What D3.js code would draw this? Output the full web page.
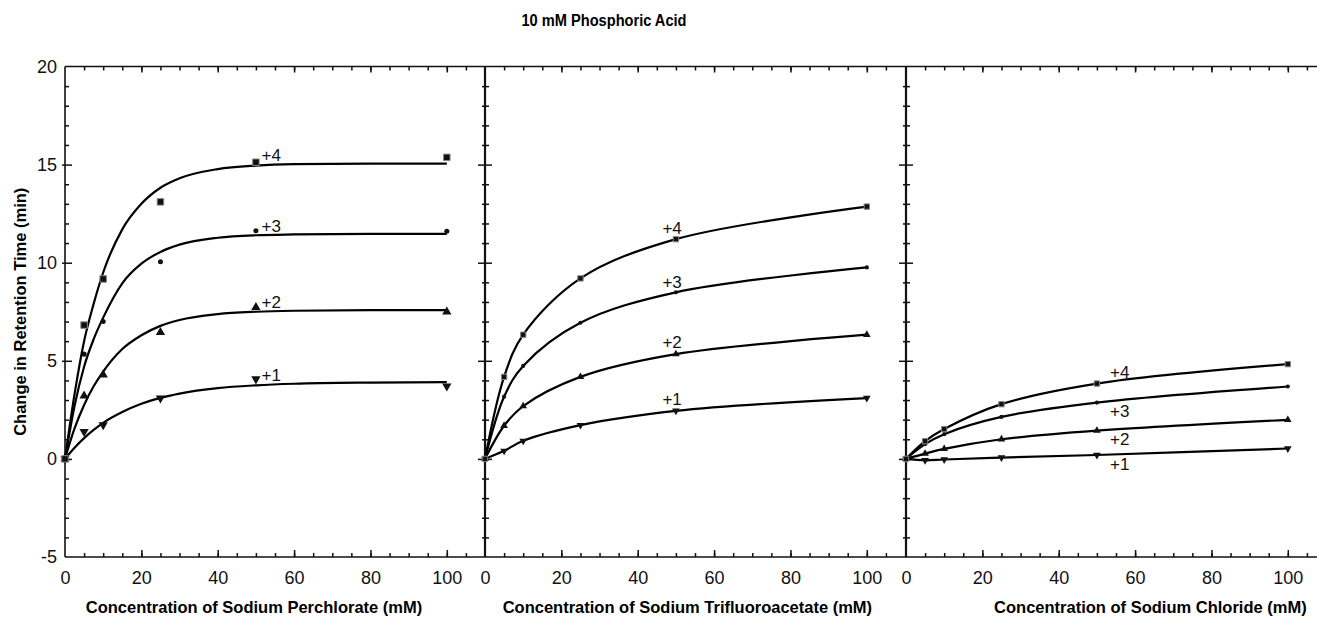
<!DOCTYPE html>
<html>
<head>
<meta charset="utf-8">
<script src="https://cdn.jsdelivr.net/npm/d3@7"></script>
<style>
  body { margin: 0; background: #fff; }
  svg { display: block; font-family: "Liberation Sans", Arial, Helvetica, sans-serif; }
</style>
</head>
<body>
<svg id="chart" width="1317" height="617"></svg>
<script>
// concentrations (mM) where retention was measured
const conc = [0, 5, 10, 25, 50, 100];
const charges = ["+1", "+2", "+3", "+4"];

// sodium perchlorate: measured points
const perchlorate1 = [0, 1.39, 1.73, 3.10, 4.07, 3.71];
const perchlorate2 = [0, 3.21, 4.29, 6.45, 7.72, 7.50];
const perchlorate3 = [0, 5.34, 7.00, 10.05, 11.63, 11.60];
const perchlorate4 = [0, 6.82, 9.17, 13.10, 15.12, 15.37];

// sodium perchlorate: fitted curves
const fitConc = [0, 2.5, 5, 7.5, 10, 15, 20, 25, 30, 40, 50, 60, 80, 100];
const perchlorateFit1 = [0, 0.57, 1.06, 1.48, 1.84, 2.39, 2.81, 3.11, 3.33, 3.61, 3.75, 3.83, 3.89, 3.91];
const perchlorateFit2 = [0, 1.55, 2.75, 3.7, 4.45, 5.6, 6.3, 6.78, 7.08, 7.38, 7.5, 7.55, 7.58, 7.58];
const perchlorateFit3 = [0, 2.7, 4.7, 6.1, 7.2, 8.95, 9.95, 10.55, 10.92, 11.27, 11.4, 11.44, 11.47, 11.47];
const perchlorateFit4 = [0, 3.3, 6.0, 7.9, 9.5, 11.7, 13.0, 13.82, 14.3, 14.77, 14.95, 15.02, 15.05, 15.05];

// sodium trifluoroacetate
const tfa1 = [0, 0.41, 0.92, 1.72, 2.45, 3.10];
const tfa2 = [0, 1.69, 2.69, 4.18, 5.34, 6.33];
const tfa3 = [0, 3.17, 4.74, 6.94, 8.49, 9.76];
const tfa4 = [0, 4.18, 6.33, 9.20, 11.20, 12.86];

// sodium chloride
const chloride1 = [0, -0.07, -0.03, 0.07, 0.20, 0.53];
const chloride2 = [0, 0.27, 0.51, 1.00, 1.44, 1.99];
const chloride3 = [0, 0.75, 1.26, 2.14, 2.87, 3.69];
const chloride4 = [0, 0.90, 1.52, 2.79, 3.84, 4.83];

// where the "+n" labels sit, in data units
const perchlorateLabelX = [54, 54, 54, 54];
const perchlorateLabelY = [3.95, 7.7, 11.56, 15.18];
const tfaLabelX = [49, 49, 49, 49];
const tfaLabelY = [2.73, 5.64, 8.72, 11.45];
const chlorideLabelX = [56, 56, 56, 56];
const chlorideLabelY = [-0.55, 0.72, 2.12, 4.12];

const xTicks = [0, 20, 40, 60, 80, 100];
const yTicks = [-5, 0, 5, 10, 15, 20];

const panels = [
  { title: "Concentration of Sodium Perchlorate (mM)", series: [perchlorate1, perchlorate2, perchlorate3, perchlorate4],
    fits: [perchlorateFit1, perchlorateFit2, perchlorateFit3, perchlorateFit4], lx: perchlorateLabelX, ly: perchlorateLabelY, titleX: 49.5, mark: 1.25 },
  { title: "Concentration of Sodium Trifluoroacetate (mM)", series: [tfa1, tfa2, tfa3, tfa4],
    fits: null, lx: tfaLabelX, ly: tfaLabelY, titleX: 53, mark: 0.85 },
  { title: "Concentration of Sodium Chloride (mM)", series: [chloride1, chloride2, chloride3, chloride4],
    fits: null, lx: chlorideLabelX, ly: chlorideLabelY, titleX: 64, mark: 0.85 }
];

const svg = d3.select("#chart");
const W = 1317;
const margin = { top: 66.5, bottom: 557 };
const panelLeft = [65, 485, 906];
const panelWidth = 420;
const ink = "#111";

const y = d3.scaleLinear().domain([-5, 20]).range([margin.bottom, margin.top]);

// title (the original face is a condensed bold)
svg.append("text")
  .attr("x", 604).attr("y", 26)
  .attr("text-anchor", "middle")
  .attr("font-size", 16).attr("font-weight", "bold")
  .attr("textLength", 165).attr("lengthAdjust", "spacingAndGlyphs")
  .text("10 mM Phosphoric Acid");

// y label
svg.append("text")
  .attr("transform", `translate(26, ${(margin.top + margin.bottom) / 2}) rotate(-90)`)
  .attr("text-anchor", "middle")
  .attr("font-size", 16.5).attr("font-weight", "bold")
  .text("Change in Retention Time (min)");

const symbols = [d3.symbolTriangle, d3.symbolTriangle, d3.symbolCircle, d3.symbolSquare];
const symbolSize = [30, 30, 16, 34];

panels.forEach((p, pi) => {
  const x = d3.scaleLinear().domain([0, 110]).range([panelLeft[pi], panelLeft[pi] + panelWidth]);
  const g = svg.append("g");

  // bottom axis: ticks point up into the plot
  g.append("g").attr("transform", `translate(0, ${margin.bottom})`)
    .call(d3.axisTop(x).tickValues(d3.range(5, 110, 5)).tickSize(4).tickFormat(""));
  g.append("g").attr("transform", `translate(0, ${margin.bottom})`)
    .call(d3.axisTop(x).tickValues(xTicks.slice(1)).tickSize(7).tickFormat(""));
  g.append("g").attr("transform", `translate(0, ${margin.bottom})`)
    .call(d3.axisBottom(x).tickValues(xTicks).tickSize(0).tickPadding(14).tickFormat(d => String(d)))
    .call(a => a.selectAll("text").attr("font-size", 18).attr("fill", ink).attr("font-family", "Liberation Sans, Arial, sans-serif"));

  // top axis: ticks point down
  g.append("g").attr("transform", `translate(0, ${margin.top})`)
    .call(d3.axisBottom(x).tickValues(d3.range(5, 110, 5)).tickSize(4).tickFormat(""));
  g.append("g").attr("transform", `translate(0, ${margin.top})`)
    .call(d3.axisBottom(x).tickValues(xTicks.slice(1)).tickSize(6).tickFormat(""));

  // left axis: minor ticks every 1, major every 5
  const left = panelLeft[pi];
  const minor = d3.range(-4, 20, 1).filter(v => v % 5 !== 0);
  const major = yTicks.slice(1, -1);
  g.append("g").attr("transform", `translate(${left}, 0)`)
    .call(d3.axisRight(y).tickValues(minor).tickSize(4).tickFormat(""));
  g.append("g").attr("transform", `translate(${left}, 0)`)
    .call(d3.axisRight(y).tickValues(major).tickSize(7).tickFormat(""));
  g.append("g").attr("transform", `translate(${left}, 0)`)
    .call(d3.axisLeft(y).tickValues(major).tickSize(pi === 0 ? 3 : 7).tickFormat(""));
  if (pi > 0) {
    g.append("g").attr("transform", `translate(${left}, 0)`)
      .call(d3.axisLeft(y).tickValues(minor).tickSize(3).tickFormat(""));
  } else {
    g.append("g").attr("transform", `translate(${left}, 0)`)
      .call(d3.axisLeft(y).tickValues(yTicks).tickSize(0).tickPadding(8).tickFormat(d => String(d)))
      .call(a => a.selectAll("text").attr("font-size", 18).attr("fill", ink).attr("font-family", "Liberation Sans, Arial, sans-serif"));
  }

  g.selectAll(".domain").remove();
  g.selectAll(".tick line").attr("stroke", ink).attr("stroke-width", 1.5);

  // separating vertical line
  g.append("line")
    .attr("x1", left).attr("x2", left)
    .attr("y1", margin.top).attr("y2", margin.bottom)
    .attr("stroke", ink).attr("stroke-width", pi === 0 ? 1.6 : 2.2);

  // x axis title
  g.append("text")
    .attr("x", x(p.titleX)).attr("y", 613)
    .attr("text-anchor", "middle")
    .attr("font-size", 16.5).attr("font-weight", "bold")
    .text(p.title);

  const line = d3.line()
    .curve(p.fits ? d3.curveMonotoneX : d3.curveCatmullRom.alpha(0.5))
    .x(d => x(d[0])).y(d => y(d[1]));

  p.series.forEach((vals, si) => {
    const curve = p.fits ? fitConc.map((c, i) => [c, p.fits[si][i]]) : conc.map((c, i) => [c, vals[i]]);
    g.append("path")
      .datum(curve)
      .attr("d", line)
      .attr("fill", "none")
      .attr("stroke", "#000")
      .attr("stroke-width", 2.2);

    g.selectAll(null)
      .data(conc.map((c, i) => [c, vals[i]]))
      .join("path")
      .attr("transform", d => `translate(${x(d[0])}, ${y(d[1])})` + (si === 0 ? " rotate(180)" : ""))
      .attr("d", d3.symbol(symbols[si], symbolSize[si] * p.mark))
      .attr("fill", "#111")
      .attr("stroke", si === 3 ? "#888" : "none")
      .attr("stroke-width", 1);

    g.append("text")
      .attr("x", x(p.lx[si])).attr("y", y(p.ly[si]))
      .attr("text-anchor", "middle")
      .attr("font-size", 17)
      .attr("fill", ink)
      .text(charges[si]);
  });
});

// continuous frame lines across the three panels
svg.append("line").attr("x1", panelLeft[0]).attr("x2", W).attr("y1", margin.top).attr("y2", margin.top)
  .attr("stroke", ink).attr("stroke-width", 1.6);
svg.append("line").attr("x1", panelLeft[0]).attr("x2", W).attr("y1", margin.bottom).attr("y2", margin.bottom)
  .attr("stroke", ink).attr("stroke-width", 1.6);
</script>
</body>
</html>
